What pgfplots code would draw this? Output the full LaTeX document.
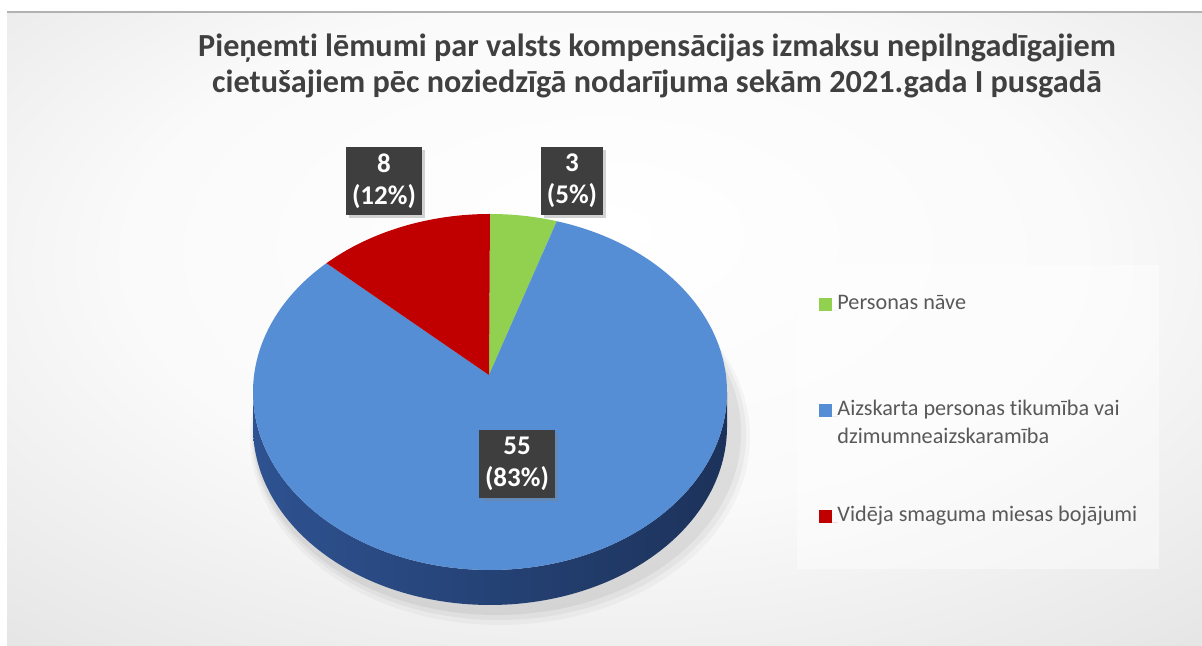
\documentclass[border=0pt]{standalone}
\usepackage{fontspec}
\setmainfont{Carlito}[Ligatures=NoCommon]
\usepackage{pgfplots}
\usepackage{pgfplotstable}
\pgfplotsset{compat=1.18}
\usetikzlibrary{shadows}

\definecolor{cGreen}{RGB}{146,208,80}
\definecolor{cBlue}{RGB}{85,142,213}
\definecolor{cRed}{RGB}{192,0,0}
\definecolor{sideL}{RGB}{46,82,145}
\definecolor{sideR}{RGB}{28,50,90}
\definecolor{titleC}{RGB}{64,64,64}
\definecolor{legC}{RGB}{89,89,89}
\definecolor{lblC}{RGB}{62,62,62}

\pgfdeclareradialshading{bgshade}{\pgfpoint{0bp}{8bp}}{%
 color(0bp)=(white); color(20bp)=(white!98!black); color(36bp)=(white!91!black);
 color(50bp)=(white!84!black); color(71bp)=(white!75!black)}

\pgfplotstableread{
cat value
1 3
2 55
3 8
}\piedata

\begin{document}
\begin{tikzpicture}
\pgfplotstablegetelem{0}{value}\of\piedata \let\vA\pgfplotsretval
\pgfplotstablegetelem{1}{value}\of\piedata \let\vB\pgfplotsretval
\pgfplotstablegetelem{2}{value}\of\piedata \let\vC\pgfplotsretval
\pgfmathsetmacro\tot{\vA+\vB+\vC}
\pgfmathsetmacro\aA{90}
\pgfmathsetmacro\aB{90-\vA/\tot*360}
\pgfmathsetmacro\aC{\aB-\vB/\tot*360}
\pgfmathsetmacro\aD{\aC-\vC/\tot*360}
\begin{axis}[
  scale only axis, width=601pt, height=323pt,
  xmin=0, xmax=1202, ymin=0, ymax=646,
  hide axis,
  legend style={at={(axis description cs:0.6814,0.5217)}, anchor=north west,
    draw=none, fill=none, inner sep=0pt, row sep=51.5pt, column sep=0pt,
    font=\fontsize{11.1}{14}\selectfont,
    nodes={inner sep=0pt, text=legC}},
  legend cell align=left,
  legimg/.style={legend image code/.code={%
    \fill[##1,overlay] (0pt,0pt) rectangle (6.3pt,6.3pt);
    \path (0pt,0pt) -- (9pt,0pt);}},
]
% background
\fill[white] (0,0) rectangle (1202,646);
\shade[shading=bgshade] (7,0.5) rectangle (1202,634);
\draw[black!30, line width=0.6pt] (7,634) -- (1202,634);
% title
\node[font=\bfseries\fontsize{16.1}{18}\selectfont, text=titleC, align=center] at (657,580)
  {Pieņemti lēmumi par valsts kompensācijas izmaksu nepilngadīgajiem\\cietušajiem pēc noziedzīgā nodarījuma sekām 2021.gada I pusgadā};
% soft shadow under the pie
\fill[black, opacity=0.03] (500,209) ellipse [x radius=125pt, y radius=94pt];
\fill[black, opacity=0.04] (499,211) ellipse [x radius=123.5pt, y radius=92.5pt];
\fill[black, opacity=0.05] (497,213) ellipse [x radius=122pt, y radius=91pt];
% legend box
\fill[white, opacity=0.45] (797,77) rectangle (1159,381);
% side of the pie
\addplot[forget plot, draw=none, left color=sideL, right color=sideR,
  domain=180:360, samples=120, variable=\t]
  ({490+237*cos(\t)},{219+178*sin(\t)}) -- (727,254)
  arc[start angle=0, end angle=-180, x radius=118.5pt, y radius=89pt] -- cycle;
% slices
\addplot[fill=cGreen, draw=none, domain=\aB:\aA, samples=40, variable=\t, legimg]
  ({490+237*cos(\t)},{254+178*sin(\t)}) -- (489,271) -- cycle;
\addlegendentry{\smash{Personas nāve}}
\addplot[fill=cBlue, draw=none, domain=\aC:\aB, samples=200, variable=\t, legimg]
  ({490+237*cos(\t)},{254+178*sin(\t)}) -- (489,271) -- cycle;
\addlegendentry{\smash{\begin{tabular}[t]{@{}l@{}}Aizskarta personas tikumība vai\\dzimumneaizskaramība\end{tabular}}}
\addplot[fill=cRed, draw=none, domain=\aD:\aC, samples=60, variable=\t, legimg]
  ({490+237*cos(\t)},{254+178*sin(\t)}) -- (489,271) -- cycle;
\addlegendentry{\smash{Vidēja smaguma miesas bojājumi}}
% data labels
\tikzset{dlab/.style={fill=lblC, text=white, font=\bfseries\fontsize{13.5}{16}\selectfont,
  align=center, inner xsep=3pt, minimum height=34pt,
  drop shadow={opacity=0.35, shadow xshift=1.5pt, shadow yshift=-1.5pt}}}
\node[dlab] at (384,465) {8\\(12\%)};
\node[dlab] at (572,465) {3\\(5\%)};
\node[dlab] at (517,182) {55\\(83\%)};
\end{axis}
\end{tikzpicture}
\end{document}
